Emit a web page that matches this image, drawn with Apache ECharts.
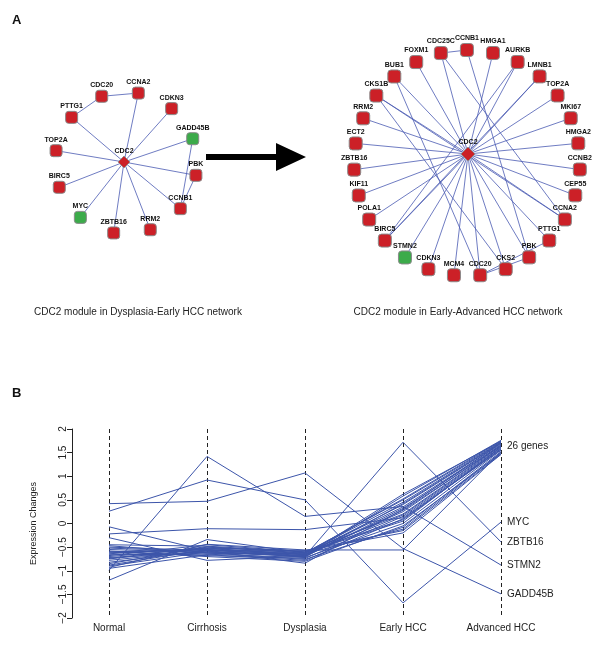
<!DOCTYPE html>
<html>
<head>
<meta charset="utf-8">
<script src="https://cdn.jsdelivr.net/npm/echarts@6/dist/echarts.min.js"></script>
<style>
html,body{margin:0;padding:0;background:#fff;}
#chart{width:600px;height:653px;}
</style>
</head>
<body>
<div id="chart"></div>
<script>
// ---------- Panel A data ----------
const leftRing = ['PBK','CCNB1','RRM2','ZBTB16','MYC','BIRC5','TOP2A','PTTG1','CDC20','CCNA2','CDKN3','GADD45B'];
const leftGreen = ['MYC','GADD45B'];
const leftLinks = [
  ['CDC2','PTTG1'],['CDC2','CCNA2'],['CDC2','CDKN3'],['CDC2','GADD45B'],['CDC2','PBK'],
  ['CDC2','CCNB1'],['CDC2','RRM2'],['CDC2','ZBTB16'],['CDC2','MYC'],['CDC2','BIRC5'],['CDC2','TOP2A'],
  ['PTTG1','CDC20'],['CDC20','CCNA2'],['GADD45B','CCNB1'],['PBK','CCNB1']
];
const rightRing = ['CCNB2','CEP55','CCNA2','PTTG1','PBK','CKS2','CDC20','MCM4','CDKN3','STMN2','BIRC5','POLA1',
  'KIF11','ZBTB16','ECT2','RRM2','CKS1B','BUB1','FOXM1','CDC25C','CCNB1','HMGA1','AURKB','LMNB1','TOP2A','MKI67','HMGA2'];
const rightGreen = ['STMN2'];
const rightLinks = [
  ['CDC2','FOXM1'],['CDC2','BUB1'],['CDC2','CKS1B'],['CDC2','RRM2'],['CDC2','ECT2'],['CDC2','ZBTB16'],
  ['CDC2','KIF11'],['CDC2','POLA1'],['CDC2','BIRC5'],['CDC2','STMN2'],['CDC2','CDKN3'],['CDC2','MCM4'],
  ['CDC2','CDC20'],['CDC2','CKS2'],['CDC2','PBK'],['CDC2','PTTG1'],['CDC2','CCNA2'],['CDC2','CEP55'],
  ['CDC2','CCNB2'],['CDC2','HMGA2'],['CDC2','MKI67'],['CDC2','TOP2A'],['CDC2','LMNB1'],['CDC2','AURKB'],
  ['CDC2','HMGA1'],['CDC2','CDC25C'],
  ['CDC25C','CCNB1'],['CDC25C','CCNA2'],['CCNB1','PBK'],['CKS1B','CCNA2'],['CKS1B','CKS2'],
  ['BUB1','CDC20'],['AURKB','BIRC5'],['LMNB1','BIRC5'],['CDC20','PTTG1'],['CDC20','PBK']
];

// ---------- Panel B data ----------
const stages = ['Normal','Cirrhosis','Dysplasia','Early HCC','Advanced HCC'];
const genes = ['CDC2','CDC20','CCNA2','CDKN3','PBK','CCNB1','RRM2','BIRC5','TOP2A','PTTG1',
  'CDC25C','HMGA1','AURKB','LMNB1','MKI67','HMGA2','CCNB2','CEP55','CKS2','MCM4',
  'POLA1','KIF11','ECT2','CKS1B','BUB1','FOXM1','GADD45B','MYC','ZBTB16','STMN2'];
const normal      = [-0.22,-0.07,-1.20,-0.62,-0.70,-0.90,-0.55,-0.45,-0.88,-0.66,-0.50,-0.93,-0.75,-0.60,-0.85,-0.58,-0.78,-0.68,-0.52,-0.72,-0.64,-0.82,-0.47,-0.95,-0.74,-0.60, 0.42, 0.26,-0.30,-0.99];
const cirrhosis   = [-0.11,-0.58,-0.34,-0.55,-0.52,-0.60,-0.62,-0.48,-0.55,-0.65,-0.57,-0.44,-0.53,-0.68,-0.50,-0.70,-0.57,-0.45,-0.60,-0.62,-0.52,-0.58,-0.63,-0.66,-0.49,-0.56, 0.47, 0.92,-0.78, 1.42];
const dysplasia   = [-0.13,-0.84,-0.62,-0.63,-0.66,-0.70,-0.64,-0.60,-0.68,-0.72,-0.58,-0.56,-0.66,-0.74,-0.62,-0.80,-0.65,-0.60,-0.69,-0.76,-0.57,-0.71,-0.67,-0.78,-0.63,-0.70, 1.07, 0.50,-0.69, 0.15];
const earlyHCC    = [ 0.12, 0.30, 0.05, 0.45, 0.25, 0.58,-0.12, 0.20, 0.62, 0.00,-0.20,-0.56, 0.40, 0.15, 0.50,-0.05, 0.35, 0.08, 0.28,-0.08,-0.15, 0.42, 0.18, 0.10, 0.52, 0.32,-0.53,-1.68, 1.72, 0.36];
const advancedHCC = [ 1.58, 1.70, 1.62, 1.72, 1.66, 1.76, 1.50, 1.64, 1.74, 1.55, 1.46, 1.52, 1.70, 1.60, 1.73, 1.48, 1.68, 1.58, 1.64, 1.52, 1.47, 1.71, 1.62, 1.56, 1.75, 1.66,-1.49, 0.03,-0.39,-0.88];
const yTicks = [-2,-1.5,-1,-0.5,0,0.5,1,1.5,2];
const endLabelText = {CKS2:'26 genes', MYC:'MYC', ZBTB16:'ZBTB16', STMN2:'STMN2', GADD45B:'GADD45B'};

// ---------- styling / layout ----------
const FONT = 'Liberation Sans, Arial, sans-serif';
const RED = '#cc2027', GREEN = '#3cab4a', EDGE = '#4a5bb3', LINE = '#3c55aa';
const leftLayout  = {cx:126, cy:163, r:71,  start:10,  hub:[124,162], node:12, hubSize:12};
const rightLayout = {cx:467, cy:163, r:113, start:3.3, hub:[468,154], node:13, hubSize:14};

function buildNodes(ring, greens, L){
  const step = 360 / ring.length;
  const nodes = ring.map((name,i)=>{
    const a = (L.start + i*step) * Math.PI/180;
    return {
      name, value:[L.cx + L.r*Math.cos(a), L.cy + L.r*Math.sin(a)],
      symbol:'roundRect', symbolSize:L.node,
      itemStyle:{color: greens.includes(name)?GREEN:RED, borderColor:'#8a8a8a', borderWidth:1}
    };
  });
  nodes.push({name:'CDC2', value:L.hub, symbol:'diamond', symbolSize:L.hubSize,
    itemStyle:{color:RED, borderColor:'#8a8a8a', borderWidth:0.8}});
  return nodes;
}
function graphSeries(ring, greens, links, L){
  return {
    type:'graph', coordinateSystem:'cartesian2d', xAxisIndex:0, yAxisIndex:0,
    data: buildNodes(ring, greens, L),
    links: links.map(([s,t])=>({source:s,target:t})),
    lineStyle:{color:EDGE, width:0.8, opacity:1, curveness:0},
    label:{show:true, position:'top', distance:1, fontSize:7, fontWeight:'bold', color:'#111', fontFamily:FONT},
    silent:true, z:3
  };
}

const lineSeries = genes.map((g,i)=>{
  const s = {
    type:'line', name:g, xAxisIndex:1, yAxisIndex:1,
    data:[normal[i],cirrhosis[i],dysplasia[i],earlyHCC[i],advancedHCC[i]],
    showSymbol:false, symbol:'none', silent:true,
    lineStyle:{color:LINE, width:1}, z:2
  };
  if (endLabelText[g]) {
    s.endLabel = {show:true, formatter:endLabelText[g], distance:6, fontSize:10, color:'#222', fontFamily:FONT};
  }
  return s;
});

const chart = echarts.init(document.getElementById('chart'), null, {renderer:'canvas'});
chart.setOption({
  animation:false,
  backgroundColor:'#fff',
  textStyle:{fontFamily:FONT},
  grid:[
    {left:0, top:0, width:600, height:653, show:false},
    {left:109, right:99, top:429, bottom:35, show:false}
  ],
  xAxis:[
    {gridIndex:0, type:'value', min:0, max:600, show:false},
    {gridIndex:1, type:'category', data:stages, boundaryGap:false,
      axisLine:{show:false}, axisTick:{show:false},
      axisLabel:{fontSize:10, color:'#222', margin:5, interval:0, fontFamily:FONT},
      splitLine:{show:true, interval:0, lineStyle:{color:'#222', type:[4,3], width:1}}}
  ],
  yAxis:[
    {gridIndex:0, type:'value', min:0, max:653, inverse:true, show:false},
    {gridIndex:1, type:'value', min:yTicks[0], max:yTicks[yTicks.length-1], interval:0.5, offset:37,
      name:'Expression Changes', nameLocation:'middle', nameGap:34,
      nameTextStyle:{fontSize:9, color:'#222', fontFamily:FONT},
      axisLine:{show:true, lineStyle:{color:'#222', width:1}},
      axisTick:{show:true, length:5, lineStyle:{color:'#222'}},
      axisLabel:{rotate:90, fontSize:10, color:'#222', margin:4, fontFamily:FONT,
        formatter:v=>String(v).replace('-','\u2212')},
      splitLine:{show:false}}
  ],
  graphic:[
    {type:'text', left:12, top:14, style:{text:'A', font:'bold 13px '+FONT, fill:'#111'}},
    {type:'text', left:12, top:387, style:{text:'B', font:'bold 13px '+FONT, fill:'#111'}},
    {type:'text', x:138, y:312, style:{text:'CDC2 module in Dysplasia-Early HCC network', font:'10px '+FONT, fill:'#222', align:'center', verticalAlign:'middle'}},
    {type:'text', x:458, y:312, style:{text:'CDC2 module in Early-Advanced HCC network', font:'10px '+FONT, fill:'#222', align:'center', verticalAlign:'middle'}},
    {type:'polygon', shape:{points:[[206,154],[276,154],[276,143],[306,157],[276,171],[276,160],[206,160]]}, style:{fill:'#000'}}
  ],
  series:[
    graphSeries(leftRing, leftGreen, leftLinks, leftLayout),
    graphSeries(rightRing, rightGreen, rightLinks, rightLayout),
    ...lineSeries
  ]
});
</script>
</body>
</html>
